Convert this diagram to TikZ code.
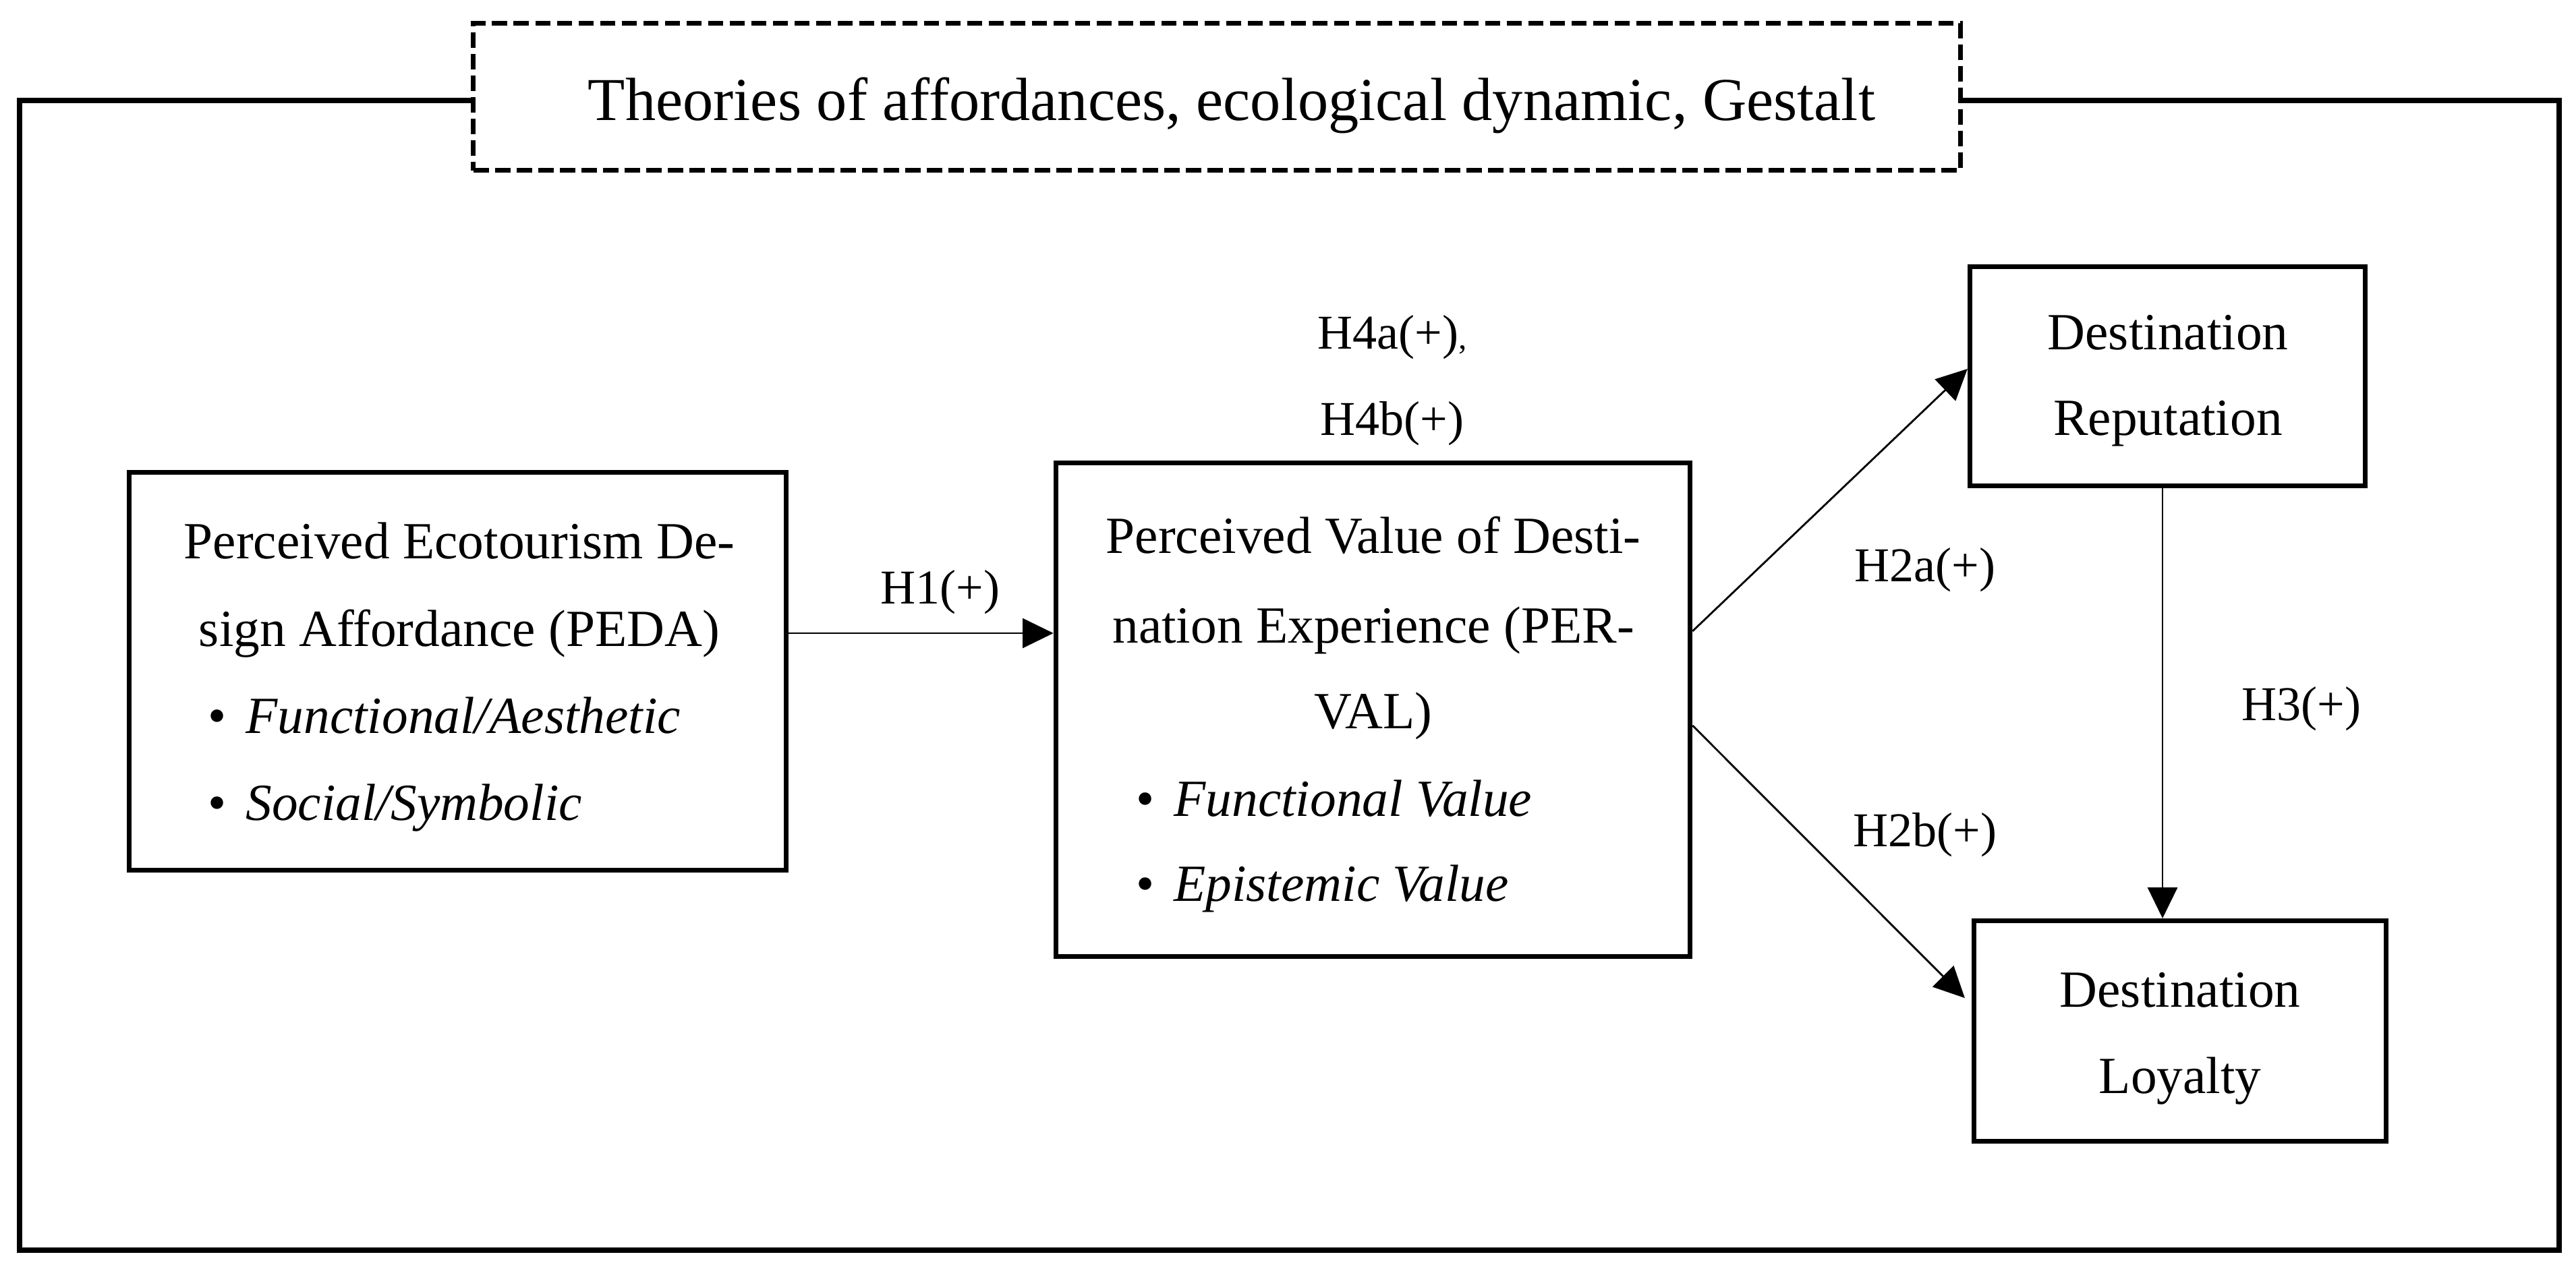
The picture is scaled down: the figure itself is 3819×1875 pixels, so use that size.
\documentclass[tikz,border=0pt]{standalone}
\usepackage{fontspec}
\setmainfont{Liberation Serif}
\usetikzlibrary{arrows.meta}
\begin{document}
\begin{tikzpicture}[x=0.01cm,y=-0.01cm,
  box/.style={draw, line width=2pt, inner sep=0pt},
  dbox/.style={draw, line width=2pt, dash pattern=on 6.5pt off 2.6pt, inner sep=0pt},
  frame/.style={line width=2.1pt},
  arr/.style={line width=0.8pt, -{Triangle[length=13pt,width=12.5pt]}},
  txt/.style={inner sep=0pt, anchor=base, font=\fontsize{22}{26}\selectfont},
  btxt/.style={inner sep=0pt, anchor=base west, font=\fontsize{22}{26}\selectfont\itshape},
  lbl/.style={inner sep=0pt, anchor=base, font=\fontsize{20.5}{24}\selectfont},
  ttl/.style={inner sep=0pt, anchor=base, font=\fontsize{25.7}{30}\selectfont}]
\useasboundingbox (0,0) rectangle (3819,1875);

% title box
\node[dbox, minimum width=22.03cm, minimum height=2.18cm] (title) at (1804,143.5) {};
\node[ttl] (ttltext) at (1826,178) {Theories of affordances, ecological dynamic, Gestalt};

% outer frame
\draw[frame] (title.west |- 0,149) -- (29,149) -- (29,1854) -- (3794,1854) -- (3794,149) -- (title.east |- 0,149);

% boxes
\node[box, minimum width=9.74cm, minimum height=5.90cm] (peda) at (678.5,995.5) {};
\node[box, minimum width=9.40cm, minimum height=7.32cm] (perval) at (2035.5,1052.5) {};
\node[box, minimum width=5.86cm, minimum height=3.25cm] (rep) at (3213.5,558) {};
\node[box, minimum width=6.11cm, minimum height=3.27cm] (loy) at (3232,1529) {};

% PEDA text
\node[txt] (peda1) at (681,828) {Perceived Ecotourism De-};
\node[txt] (peda2) at (681,958) {sign Affordance (PEDA)};
\node[btxt] (peda3) at (308,1087) {\upshape\textbullet\hspace{0.37em}\itshape Functional/Aesthetic};
\node[btxt] (peda4) at (308,1216) {\upshape\textbullet\hspace{0.37em}\itshape Social/Symbolic};

% PERVAL text
\node[txt] (perval1) at (2036,820) {Perceived Value of Desti-};
\node[txt] (perval2) at (2036,953) {nation Experience (PER-};
\node[txt] (perval3) at (2036,1080) {VAL)};
\node[btxt] (perval4) at (1684,1210) {\upshape\textbullet\hspace{0.37em}\itshape Functional Value};
\node[btxt] (perval5) at (1684,1336) {\upshape\textbullet\hspace{0.37em}\itshape Epistemic Value};

% Destination texts
\node[txt] (rep1) at (3214,518) {Destination};
\node[txt] (rep2) at (3214,645) {Reputation};
\node[txt] (loy1) at (3232,1493) {Destination};
\node[txt] (loy2) at (3232,1621) {Loyalty};

% connectors
\coordinate (h1y) at (0,939);
\draw[arr] (peda.east |- h1y) -- (perval.west |- h1y);
\draw[arr] ([yshift=1.165cm]perval.east) -- ([yshift=0.11cm]rep.west);
\draw[arr, shorten >=4pt] ([yshift=-0.235cm]perval.east) -- ([yshift=0.39cm]loy.west);
\draw[arr] ([xshift=-0.075cm]rep.south) -- ([xshift=-0.075cm]rep.south |- loy.north);

% labels
\node[lbl] (h1) at (1394,895) {H1(+)};
\node[lbl] (h4a) at (2064,517) {H4a(+){\fontsize{14}{14}\selectfont,}};
\node[lbl] (h4b) at (2064,645) {H4b(+)};
\node[lbl] (h2a) at (2854,862) {H2a(+)};
\node[lbl] (h2b) at (2854,1255) {H2b(+)};
\node[lbl] (h3) at (3412,1068) {H3(+)};
\end{tikzpicture}
\end{document}
